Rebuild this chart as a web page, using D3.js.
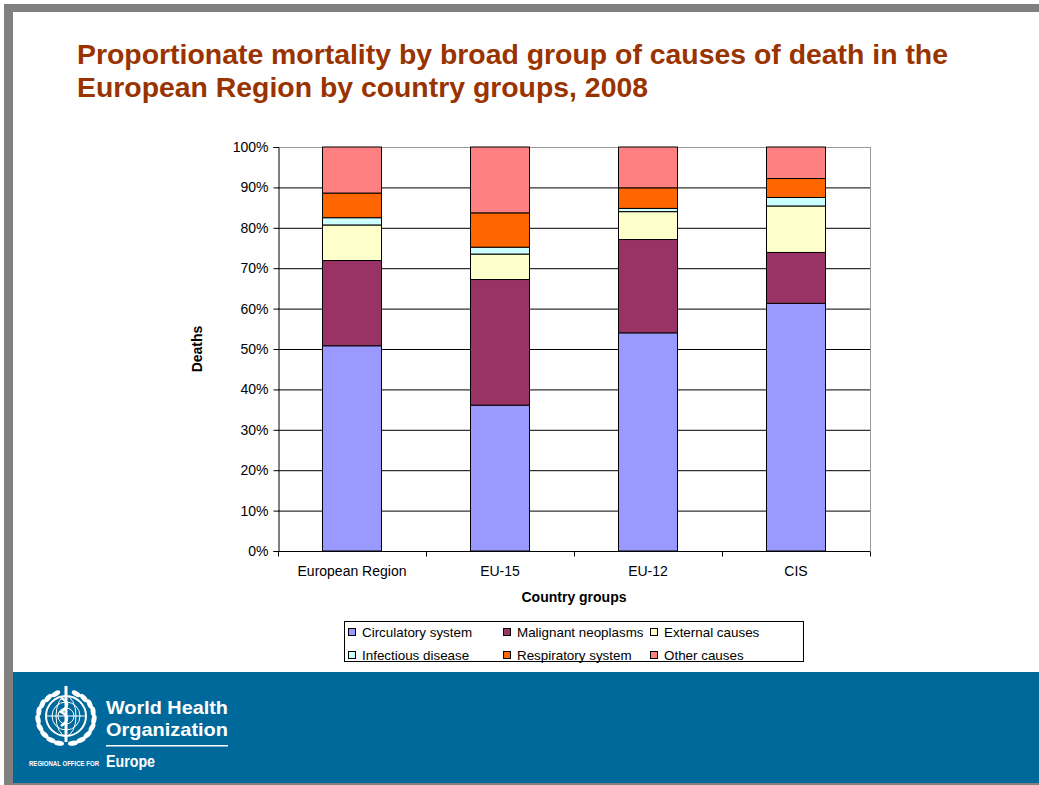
<!DOCTYPE html>
<html>
<head>
<meta charset="utf-8">
<script src="https://cdn.jsdelivr.net/npm/d3@7"></script>
<style>
  html, body { margin: 0; padding: 0; background: #fff; }
  svg { display: block; }
  text { font-family: "Liberation Sans", Arial, Helvetica, sans-serif; }
</style>
</head>
<body>
<svg id="chart" width="1039" height="785"></svg>
<script>
// ---------- data ----------
const titleLines = ["Proportionate mortality by broad group of causes of death in the",
                    "European Region by country groups, 2008"];
const categories = ["European Region", "EU-15", "EU-12", "CIS"];
const seriesNames = ["Circulatory system", "Malignant neoplasms", "External causes",
                     "Infectious disease", "Respiratory system", "Other causes"];
const circulatory = [50.8, 36.1, 54.0, 61.3];
const malignant   = [21.1, 31.1, 23.1, 12.6];
const external    = [8.8, 6.3, 6.9, 11.5];
const infectious  = [1.8, 1.7, 0.8, 2.1];
const respiratory = [6.1, 8.5, 5.1, 4.7];
const otherCauses = [11.4, 16.3, 10.1, 7.8];
const yTicks = [0, 10, 20, 30, 40, 50, 60, 70, 80, 90, 100];
const seriesColors = ["#9999FF", "#993366", "#FFFFCC", "#CCFFFF", "#FF6600", "#FF8080"];

const seriesValues = [circulatory, malignant, external, infectious, respiratory, otherCauses];
const rows = categories.map((c, i) => {
  const r = { category: c };
  seriesNames.forEach((s, j) => r[s] = seriesValues[j][i]);
  return r;
});

const svg = d3.select("#chart");

// ---------- slide frame ----------
svg.append("rect").attr("x", 4).attr("y", 4).attr("width", 1035).attr("height", 8).attr("fill", "#808080");
svg.append("rect").attr("x", 4).attr("y", 4).attr("width", 9).attr("height", 781).attr("fill", "#808080");
svg.append("rect").attr("x", 13).attr("y", 672).attr("width", 1026).attr("height", 111).attr("fill", "#00699B");
svg.append("rect").attr("x", 4).attr("y", 783).attr("width", 1035).attr("height", 2).attr("fill", "#808080");

// ---------- title ----------
const title = svg.append("g").attr("fill", "#993300").attr("font-weight", "bold").attr("font-size", 28);
title.append("text").attr("x", 77).attr("y", 64).attr("textLength", 871).attr("lengthAdjust", "spacingAndGlyphs").text(titleLines[0]);
title.append("text").attr("x", 77).attr("y", 97).attr("textLength", 571).attr("lengthAdjust", "spacingAndGlyphs").text(titleLines[1]);

// ---------- chart ----------
const L = 278, R = 870, T = 147, B = 551;
const x = d3.scaleBand().domain(categories).range([L, R]).paddingInner(0.6).paddingOuter(0.3);
const y = d3.scaleLinear().domain([0, 100]).range([B, T]);

// gridlines
svg.append("g")
  .attr("transform", `translate(${L},0)`)
  .call(d3.axisLeft(y).tickValues(yTicks.slice(1)).tickSize(-(R - L)).tickFormat(""))
  .call(g => g.select(".domain").remove())
  .call(g => g.selectAll("line").attr("stroke", "#000").attr("stroke-width", 1))
  .call(g => g.selectAll("line").filter(d => d === 100).attr("stroke", "#999"));

// right border
svg.append("line").attr("x1", R + 0.5).attr("x2", R + 0.5).attr("y1", T).attr("y2", B).attr("stroke", "#999");

// stacked bars
const stack = d3.stack().keys(seriesNames)(rows);
svg.append("g").selectAll("g").data(stack).join("g")
  .attr("fill", (d, i) => seriesColors[i])
  .selectAll("rect").data(d => d).join("rect")
  .attr("x", d => Math.round(x(d.data.category)) + 0.5)
  .attr("y", d => y(d[1]))
  .attr("width", Math.round(x.bandwidth()))
  .attr("height", d => y(d[0]) - y(d[1]))
  .attr("stroke", "#000").attr("stroke-width", 1);

// y axis
svg.append("g")
  .attr("transform", `translate(${L + 0.5},0)`)
  .call(d3.axisLeft(y).tickValues(yTicks).tickSize(5).tickPadding(5).tickFormat(d => d + "%"))
  .call(g => g.select(".domain").attr("stroke", "#000"))
  .call(g => g.selectAll("text").attr("font-size", 14).attr("fill", "#000").attr("font-family", "Liberation Sans, Arial, sans-serif"));

// x axis
const xAxis = svg.append("g")
  .attr("transform", `translate(0,${B + 0.5})`)
  .call(d3.axisBottom(x).tickSize(0).tickPadding(15))
  .call(g => g.select(".domain").attr("stroke", "#000").attr("d", `M${L},0H${R}`))
  .call(g => g.selectAll("text").attr("font-size", 14).attr("fill", "#000").attr("font-family", "Liberation Sans, Arial, sans-serif"));
const boundaries = d3.range(categories.length + 1).map(i => x.range()[0] + i * x.step());
xAxis.selectAll("line.bound").data(boundaries).join("line").attr("class", "bound")
  .attr("x1", d => Math.round(d) + 0.5).attr("x2", d => Math.round(d) + 0.5)
  .attr("y1", 0).attr("y2", 5).attr("stroke", "#000");

// axis titles
svg.append("text").attr("transform", "translate(202,349) rotate(-90)")
  .attr("text-anchor", "middle").attr("font-weight", "bold").attr("font-size", 14).text("Deaths");
svg.append("text").attr("x", (L + R) / 2).attr("y", 602)
  .attr("text-anchor", "middle").attr("font-weight", "bold").attr("font-size", 14).text("Country groups");

// legend
const lg = svg.append("g");
lg.append("rect").attr("x", 344.5).attr("y", 621.5).attr("width", 459).attr("height", 40)
  .attr("fill", "#fff").attr("stroke", "#000");
const colX = [348, 503, 650];
const rowY = [632, 655];
const items = lg.selectAll("g.item").data(seriesNames).join("g").attr("class", "item")
  .attr("transform", (d, i) => `translate(${colX[i % 3]},${rowY[Math.floor(i / 3)]})`);
items.append("rect").attr("x", 0.5).attr("y", -3.5).attr("width", 7).attr("height", 7)
  .attr("fill", (d, i) => seriesColors[i]).attr("stroke", "#000");
items.append("text").attr("x", 14).attr("y", 5).attr("font-size", 13.4).text(d => d);

// ---------- WHO logo ----------
const logo = svg.append("g").attr("fill", "none").attr("stroke", "#fff");
const cx = 66, cy = 716;
logo.append("circle").attr("cx", cx).attr("cy", cy).attr("r", 20).attr("stroke-width", 2);
[8, 14].forEach(r => logo.append("circle").attr("cx", cx).attr("cy", cy).attr("r", r).attr("stroke-width", 1));
logo.append("ellipse").attr("cx", cx).attr("cy", cy).attr("rx", 10).attr("ry", 20).attr("stroke-width", 1);
logo.append("line").attr("x1", cx - 20).attr("x2", cx + 20).attr("y1", cy).attr("y2", cy).attr("stroke-width", 1);
logo.append("line").attr("x1", cx).attr("x2", cx).attr("y1", cy - 30).attr("y2", cy + 26).attr("stroke-width", 3);
logo.append("path").attr("d", `M${cx-5},${cy-18} Q${cx+7},${cy-12} ${cx-5},${cy-4} Q${cx+7},${cy+2} ${cx-5},${cy+10}`).attr("stroke-width", 2.5);
// laurel leaves
d3.range(0, 9).forEach(i => {
  const a = Math.PI * (0.62 + i * 0.1);
  [1, -1].forEach(s => {
    const lx = cx + s * 28 * Math.cos(a) * -1, ly = cy + 26 * Math.sin(a) * -1 + 2;
    logo.append("ellipse").attr("cx", lx).attr("cy", ly).attr("rx", 2.5).attr("ry", 5)
      .attr("transform", `rotate(${s * (i * 18 - 60)},${lx},${ly})`).attr("fill", "#fff").attr("stroke", "none");
  });
});
const wt = svg.append("g").attr("fill", "#fff").attr("font-weight", "bold");
wt.append("text").attr("x", 106).attr("y", 714).attr("font-size", 19).attr("textLength", 122).attr("lengthAdjust", "spacingAndGlyphs").text("World Health");
wt.append("text").attr("x", 106).attr("y", 736).attr("font-size", 19).attr("textLength", 122).attr("lengthAdjust", "spacingAndGlyphs").text("Organization");
wt.append("rect").attr("x", 106).attr("y", 745).attr("width", 122).attr("height", 1.5);
wt.append("text").attr("x", 29).attr("y", 766).attr("font-size", 7).attr("textLength", 70).attr("lengthAdjust", "spacingAndGlyphs").text("REGIONAL OFFICE FOR");
wt.append("text").attr("x", 106).attr("y", 767).attr("font-size", 16).attr("textLength", 49).attr("lengthAdjust", "spacingAndGlyphs").text("Europe");
</script>
</body>
</html>
